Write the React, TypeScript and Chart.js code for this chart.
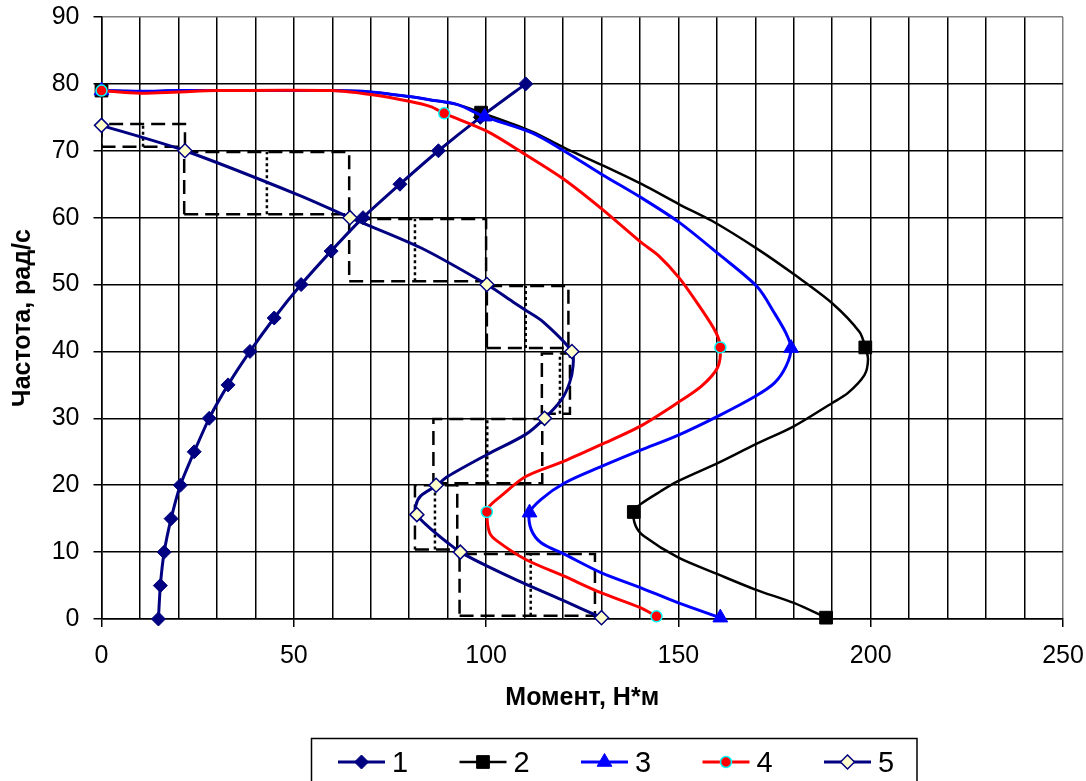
import React, { useEffect, useRef } from "react";
import { Chart, registerables } from "chart.js";
Chart.register(...registerables);

const FONT = '"Liberation Sans", Arial, Helvetica, sans-serif';

// Series 1 (speed vs torque, load curve)
const s1X = [14.8, 15.3, 16.3, 18.1, 20.5, 24.1, 28.0, 32.9, 38.6, 44.9, 51.9, 59.7, 68.0, 77.6, 87.6, 98.5, 110.3];
const s1Y = [0, 5, 10, 15, 20, 25, 30, 35, 40, 45, 50, 55, 60, 65, 70, 75, 80];

// Series 2 curve and markers
const s2CurveX = [0, 10, 20, 30, 60, 70, 80, 85.6, 92.6, 98.7, 111.8, 120.5, 130, 140.5, 150.2, 158.8, 170.6, 180.6, 190.2, 197.1, 198.6, 199.3, 198.4, 194.1, 190, 180, 170, 160.2, 149.9, 145.4, 140, 138.4, 138.9, 141, 149.9, 160.2, 170, 180, 188.4];
const s2CurveY = [79, 78.9, 79, 79, 79, 78.8, 78.1, 77.6, 76.9, 75.7, 72.9, 70.4, 67.9, 65, 62, 59.5, 55.3, 51.3, 47.1, 42.9, 40.6, 38.8, 36.5, 33.8, 32.3, 28.8, 26.1, 23.3, 20.6, 19.1, 17.1, 16, 13.9, 12.4, 9.2, 6.7, 4.4, 2.4, 0.2];
const s2MarkX = [0, 98.7, 198.6, 138.4, 188.4];
const s2MarkY = [79, 75.7, 40.6, 16, 0.2];

// Series 3 curve and markers
const s3CurveX = [0, 10, 20, 30, 60, 70, 80, 85.6, 92.6, 99.6, 111.8, 120.5, 130, 140.3, 150.2, 160.6, 170.6, 175, 178, 179.3, 178, 175, 170, 160.2, 150, 140, 130, 120.3, 114.3, 111.3, 111.7, 114.3, 120.3, 130, 140.1, 150, 160.9];
const s3CurveY = [79, 78.9, 79, 79, 79, 78.8, 78.1, 77.6, 76.9, 75.1, 72.7, 69.9, 66.5, 63, 59.3, 54.5, 49.6, 45.7, 42.7, 40.5, 37.8, 35.3, 33.3, 30.3, 27.5, 25.2, 22.8, 20.3, 17.9, 15.9, 13.4, 11.4, 9.7, 6.9, 4.7, 2.4, 0.2];
const s3MarkX = [0, 99.6, 179.3, 111.3, 160.9];
const s3MarkY = [79, 75.1, 40.5, 15.9, 0.2];

// Series 4 curve and markers
const s4CurveX = [0, 10, 20, 30, 60, 70, 80, 85.6, 89.1, 100.3, 110.3, 120.3, 130.3, 140.3, 144.9, 150.2, 155.4, 159.7, 160.9, 160.2, 156, 150, 140, 130, 120.3, 110.3, 103.9, 100.9, 100.2, 100.9, 103, 110.3, 120.3, 130, 140.1, 144.3];
const s4CurveY = [79, 78.6, 78.8, 79, 79, 78.4, 77.4, 76.6, 75.6, 72.9, 69.4, 65.7, 61.2, 56.3, 54.3, 51, 46.8, 42.9, 40.6, 37.6, 34.8, 32.4, 28.8, 26.1, 23.6, 21.3, 18.4, 16.9, 16, 12.9, 11.6, 8.9, 6.4, 3.9, 1.7, 0.4];
const s4MarkX = [0, 89.1, 160.9, 100.2, 144.3];
const s4MarkY = [79, 75.6, 40.6, 16, 0.4];

// Series 5 curve and markers
const s5CurveX = [0, 21.7, 51.6, 64.6, 83, 100.2, 107, 110.2, 114.9, 122.3, 122.6, 121.7, 119.6, 115.2, 110.3, 100.3, 90, 87, 83, 81.7, 82, 84.8, 90, 93.3, 100.3, 110.3, 120.3, 130];
const s5CurveY = [73.8, 70, 63.3, 60, 55.5, 50, 47.4, 46.2, 44.4, 40, 37.8, 35.3, 32.8, 30, 27.6, 24.6, 21.3, 19.9, 18.4, 16.9, 15.6, 13.9, 11.4, 10, 7.9, 5.2, 2.7, 0.2];
const s5MarkX = [0, 21.7, 64.6, 100.2, 122.3, 115.2, 87, 82, 93.3, 130];
const s5MarkY = [73.8, 70, 60, 50, 40, 30, 20, 15.6, 10, 0.2];

// Step rectangles (dashed) with mean line (dotted)
const stepBottom = [0.5, 10.4, 20.3, 30.7, 40.5, 50.5, 60.5, 70.6];
const stepTop = [9.7, 20, 29.9, 39.7, 49.8, 59.8, 69.8, 74];
const stepLeft = [93.1, 81.5, 86.3, 114.5, 100.2, 64.4, 21.5, 0];
const stepRight = [128.3, 92.5, 114.6, 121.8, 121.4, 100, 64.4, 21.7];
const stepMid = [111.6, 86.7, 100.3, 119.2, 110.3, 81.5, 43, 10.8];

const legendLabels = ["1", "2", "3", "4", "5"];
const xLabelStep = 50;

const NAVY = "#000080";
const BLUE = "#0000FF";
const RED = "#FF0000";
const BLACK = "#000000";

type Mk = { style: string; r: number; fill: string; stroke: string; bw: number; line: string; lw: number };
const markers: Mk[] = [
  { style: "rectRot", r: 7, fill: NAVY, stroke: NAVY, bw: 1, line: NAVY, lw: 3 },
  { style: "rect", r: 9, fill: BLACK, stroke: BLACK, bw: 1, line: BLACK, lw: 2.5 },
  { style: "triangle", r: 8.5, fill: BLUE, stroke: BLUE, bw: 1, line: BLUE, lw: 3 },
  { style: "circle", r: 5.5, fill: RED, stroke: "#00FFFF", bw: 1.5, line: RED, lw: 3 },
  { style: "rectRot", r: 7, fill: "#FFFFCC", stroke: NAVY, bw: 1.5, line: NAVY, lw: 3 },
];

const pts = (xs: number[], ys: number[]) => xs.map((x, i) => ({ x, y: ys[i] }));

function rectData() {
  const d: any[] = [];
  for (let i = 0; i < stepBottom.length; i++) {
    const L = stepLeft[i], R = stepRight[i], lo = stepBottom[i], hi = stepTop[i];
    d.push({ x: L, y: lo }, { x: R, y: lo }, { x: R, y: hi }, { x: L, y: hi }, { x: L, y: lo }, { x: L, y: null });
  }
  return d;
}
function midData() {
  const d: any[] = [];
  for (let i = 0; i < stepBottom.length; i++) {
    d.push({ x: stepMid[i], y: stepBottom[i] }, { x: stepMid[i], y: stepTop[i] }, { x: stepMid[i], y: null });
  }
  return d;
}

function drawMarker(ctx: CanvasRenderingContext2D, m: Mk, x: number, y: number) {
  ctx.save();
  ctx.fillStyle = m.fill;
  ctx.strokeStyle = m.stroke;
  ctx.lineWidth = m.bw;
  ctx.beginPath();
  if (m.style === "rectRot") {
    ctx.moveTo(x, y - m.r);
    ctx.lineTo(x + m.r, y);
    ctx.lineTo(x, y + m.r);
    ctx.lineTo(x - m.r, y);
    ctx.closePath();
  } else if (m.style === "rect") {
    const s = m.r * Math.SQRT1_2;
    ctx.rect(x - s, y - s, 2 * s, 2 * s);
  } else if (m.style === "triangle") {
    const r = m.r;
    ctx.moveTo(x, y - r);
    ctx.lineTo(x + r * Math.sin((2 * Math.PI) / 3), y - r * Math.cos((2 * Math.PI) / 3));
    ctx.lineTo(x - r * Math.sin((2 * Math.PI) / 3), y - r * Math.cos((2 * Math.PI) / 3));
    ctx.closePath();
  } else {
    ctx.arc(x, y, m.r, 0, Math.PI * 2);
  }
  ctx.fill();
  ctx.stroke();
  ctx.restore();
}

const legendPlugin = {
  id: "excelLegend",
  afterDraw(chart: any) {
    const ctx: CanvasRenderingContext2D = chart.ctx;
    ctx.save();
    ctx.strokeStyle = "#000";
    ctx.lineWidth = 1.5;
    ctx.strokeRect(311.5, 738.5, 605.5, 60);
    const y = 762;
    legendLabels.forEach((lab, i) => {
      const m = markers[i];
      const x0 = 338 + i * 121.5;
      ctx.strokeStyle = m.line;
      ctx.lineWidth = m.lw;
      ctx.beginPath();
      ctx.moveTo(x0, y);
      ctx.lineTo(x0 + 47, y);
      ctx.stroke();
      drawMarker(ctx, m, x0 + 23.5, y);
      ctx.fillStyle = "#000";
      ctx.font = `29px ${FONT}`;
      ctx.textBaseline = "alphabetic";
      ctx.textAlign = "left";
      ctx.fillText(lab, x0 + 54, 772);
    });
    ctx.restore();
  },
};

export default function App() {
  const ref = useRef<HTMLCanvasElement | null>(null);
  useEffect(() => {
    if (!ref.current) return;
    const curves = [
      { c: pts(s2CurveX, s2CurveY), m: pts(s2MarkX, s2MarkY), k: 1 },
      { c: pts(s3CurveX, s3CurveY), m: pts(s3MarkX, s3MarkY), k: 2 },
      { c: pts(s4CurveX, s4CurveY), m: pts(s4MarkX, s4MarkY), k: 3 },
      { c: pts(s5CurveX, s5CurveY), m: pts(s5MarkX, s5MarkY), k: 4 },
    ];
    const datasets: any[] = [
      {
        label: "steps",
        data: rectData(),
        showLine: true,
        borderColor: "#000",
        borderWidth: 2.5,
        borderDash: [14, 7],
        pointRadius: 0,
        spanGaps: false,
        tension: 0,
        order: 200,
      },
      {
        label: "mid",
        data: midData(),
        showLine: true,
        borderColor: "#000",
        borderWidth: 2.5,
        borderDash: [3, 3],
        pointRadius: 0,
        spanGaps: false,
        tension: 0,
        order: 199,
      },
      {
        label: legendLabels[0],
        data: pts(s1X, s1Y),
        showLine: true,
        borderColor: markers[0].line,
        borderWidth: markers[0].lw,
        tension: 0.2,
        pointStyle: markers[0].style,
        pointRadius: markers[0].r,
        pointBackgroundColor: markers[0].fill,
        pointBorderColor: markers[0].stroke,
        pointBorderWidth: markers[0].bw,
        clip: false,
        order: 100,
      },
    ];
    curves.forEach((s, j) => {
      const m = markers[s.k];
      datasets.push({
        label: legendLabels[s.k] + " line",
        data: s.c,
        showLine: true,
        borderColor: m.line,
        borderWidth: m.lw,
        tension: 0.3,
        pointRadius: 0,
        order: 90 - j * 10,
      });
      datasets.push({
        label: legendLabels[s.k],
        data: s.m,
        showLine: false,
        pointStyle: m.style,
        pointRadius: m.r,
        pointBackgroundColor: m.fill,
        pointBorderColor: m.stroke,
        pointBorderWidth: m.bw,
        clip: false,
        order: 89 - j * 10,
      });
    });

    const chart = new Chart(ref.current, {
      type: "scatter",
      data: { datasets },
      plugins: [legendPlugin],
      options: {
        animation: false,
        responsive: true,
        maintainAspectRatio: false,
        layout: { padding: { left: 0, top: 17, right: 23, bottom: 68 } },
        plugins: { legend: { display: false }, tooltip: { enabled: false } },
        scales: {
          x: {
            type: "linear",
            min: 0,
            max: 250,
            afterFit: (s: any) => { s.height = 94; s.paddingLeft = 0; s.paddingRight = 0; },
            border: { display: true, color: "#000", width: 1.5 },
            grid: {
              color: (c: any) => (c.tick && c.tick.value === 250 ? "#808080" : "#000"),
              lineWidth: 1.5,
              tickLength: 8,
              tickColor: (c: any) => (c.tick && c.tick.value % xLabelStep === 0 ? "#000" : "rgba(0,0,0,0)"),
              tickWidth: 1.5,
            },
            ticks: {
              stepSize: 10,
              autoSkip: false,
              maxRotation: 0,
              padding: 14,
              color: "#000",
              font: { family: FONT, size: 25 },
              callback: (v: any) => (Number(v) % xLabelStep === 0 ? String(v) : ""),
            },
            title: {
              display: true,
              text: "Момент, Н*м",
              color: "#000",
              font: { family: FONT, size: 25, weight: "bold" },
              padding: { top: 0, bottom: 0 },
            },
          },
          y: {
            type: "linear",
            min: 0,
            max: 90,
            afterFit: (s: any) => { s.width = 101.5; s.paddingTop = 0; s.paddingBottom = 0; },
            border: { display: true, color: "#000", width: 1.5 },
            grid: {
              color: (c: any) => (c.tick && c.tick.value === 90 ? "#808080" : "#000"),
              lineWidth: 1.5,
              tickLength: 8,
              tickColor: "#000",
              tickWidth: 1.5,
            },
            ticks: {
              stepSize: 10,
              padding: 14,
              color: "#000",
              font: { family: FONT, size: 25 },
            },
            title: {
              display: true,
              text: "Частота, рад/с",
              color: "#000",
              font: { family: FONT, size: 25, weight: "bold" },
              padding: { top: 8, bottom: 0 },
            },
          },
        },
      },
    });
    return () => chart.destroy();
  }, []);

  return (
    <div style={{ position: "absolute", left: 0, top: 0, width: 1086, height: 781, background: "#fff" }}>
      <canvas ref={ref} />
    </div>
  );
}
